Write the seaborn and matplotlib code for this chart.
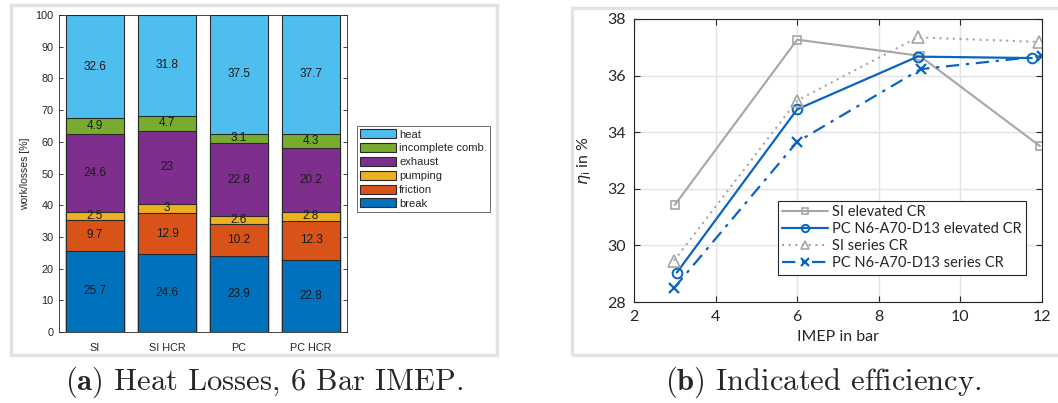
import numpy as np
import pandas as pd
import seaborn as sns
import matplotlib
matplotlib.use("Agg")
import matplotlib.pyplot as plt
from matplotlib.patches import Patch, Rectangle

# ---------------- data ----------------
configs = ["SI", "SI HCR", "PC", "PC HCR"]
loss_names = ["break", "friction", "pumping", "exhaust", "incomplete comb.", "heat"]
loss_break = [25.7, 24.6, 23.9, 22.8]
loss_friction = [9.7, 12.9, 10.2, 12.3]
loss_pumping = [2.5, 3.0, 2.6, 2.8]
loss_exhaust = [24.6, 23.0, 22.8, 20.2]
loss_incomplete = [4.9, 4.7, 3.1, 4.3]
loss_heat = [32.6, 31.8, 37.5, 37.7]
loss_labels = [
    ["25.7", "24.6", "23.9", "22.8"],
    ["9.7", "12.9", "10.2", "12.3"],
    ["2.5", "3", "2.6", "2.8"],
    ["24.6", "23", "22.8", "20.2"],
    ["4.9", "4.7", "3.1", "4.3"],
    ["32.6", "31.8", "37.5", "37.7"],
]
loss_colors = ["#0072BD", "#D95319", "#EDB120", "#7E2F8E", "#77AC30", "#4DBEEE"]

imep_si_el = [3.0, 6.0, 9.0, 11.95]
eta_si_el = [31.43, 37.27, 36.7, 33.51]
imep_pc_el = [3.05, 6.0, 8.95, 11.75]
eta_pc_el = [29.04, 34.81, 36.67, 36.62]
imep_si_se = [2.98, 6.0, 8.95, 11.93]
eta_si_se = [29.46, 35.12, 37.35, 37.19]
imep_pc_se = [2.98, 6.0, 9.03, 12.0]
eta_pc_se = [28.49, 33.66, 36.23, 36.69]
series_names = ["SI elevated CR", "PC N6-A70-D13 elevated CR",
                "SI series CR", "PC N6-A70-D13 series CR"]

# ---------------- style ----------------
sns.set_style("ticks")
plt.rcParams["font.family"] = ["Liberation Sans", "DejaVu Sans"]
plt.rcParams["mathtext.fontset"] = "cm"

W, H = 1058, 403
fig = plt.figure(figsize=(W / 100, H / 100), dpi=100)
fig.patch.set_facecolor("white")

def fx(px):
    return px / W

def fy(py):
    return 1 - py / H

# panel frames
for (x0, y0, x1, y1) in [(11, 5, 497, 355), (572, 8, 1062, 355)]:
    fig.patches.append(Rectangle((fx(x0), fy(y1)), fx(x1 - x0), (y1 - y0) / H,
                                 transform=fig.transFigure, fill=False,
                                 edgecolor="#e3e3e3", linewidth=2.5, zorder=0))

spine_c = "#262626"

# ---------------- left: stacked bars ----------------
ax1 = fig.add_axes([fx(59), fy(332), fx(347 - 59), (332 - 15) / H])
layers = [loss_break, loss_friction, loss_pumping, loss_exhaust, loss_incomplete, loss_heat]
cum = np.cumsum(np.array(layers), axis=0)
for i in range(len(layers) - 1, -1, -1):
    sns.barplot(x=configs, y=cum[i], color=loss_colors[i], saturation=1,
                edgecolor="#2a2a2a", linewidth=0.8, width=0.8, ax=ax1, zorder=2)
for i in range(len(layers)):
    bottoms = cum[i] - np.array(layers[i])
    for j in range(len(configs)):
        yc = bottoms[j] + layers[i][j] / 2
        ax1.text(j, yc, loss_labels[i][j], ha="center", va="center",
                 fontsize=8.5, color="#1a1a1a", zorder=5)
ax1.set_ylim(0, 100)
ax1.set_xlim(-0.5, 3.5)
ax1.set_yticks(np.arange(0, 101, 10))
ax1.set_ylabel("work/losses [%]", fontsize=7.5, labelpad=4)
ax1.set_xlabel("")
ax1.tick_params(axis="both", direction="in", length=3, width=0.6, labelsize=7.8,
                colors=spine_c, right=True, top=False, pad=4)
ax1.tick_params(axis="x", length=0, pad=8)
for s in ax1.spines.values():
    s.set_visible(True)
    s.set_color(spine_c)
    s.set_linewidth(0.6)

handles = [Patch(facecolor=loss_colors[i], edgecolor="#2a2a2a", linewidth=0.8,
                 label=loss_names[i]) for i in range(len(layers) - 1, -1, -1)]
leg1 = fig.legend(handles=handles, loc="upper left",
                  bbox_to_anchor=(fx(357), fy(126)), fontsize=8, frameon=True,
                  fancybox=False, edgecolor="#555555", framealpha=1,
                  handlelength=3.2, handleheight=0.85, labelspacing=0.32,
                  handletextpad=0.3, borderpad=0.3, borderaxespad=0)
leg1.get_frame().set_linewidth(0.6)

# ---------------- right: efficiency lines ----------------
ax2 = fig.add_axes([fx(634), fy(302), fx(1042 - 634), (302 - 19) / H])
gray = "#a6a6a6"
blue = "#0a64c0"
sns.lineplot(x=imep_si_el, y=eta_si_el, ax=ax2, color=gray, linewidth=1.5,
             marker="s", markersize=6, markerfacecolor="none",
             markeredgecolor=gray, markeredgewidth=1.2, label=series_names[0])
sns.lineplot(x=imep_pc_el, y=eta_pc_el, ax=ax2, color=blue, linewidth=1.6,
             marker="o", markersize=7, markerfacecolor="none",
             markeredgecolor=blue, markeredgewidth=1.4, label=series_names[1])
sns.lineplot(x=imep_si_se, y=eta_si_se, ax=ax2, color=gray, linewidth=1.5,
             linestyle=(0, (1, 2.2)),
             marker="^", markersize=8, markerfacecolor="none",
             markeredgecolor=gray, markeredgewidth=1.2, label=series_names[2])
sns.lineplot(x=imep_pc_se, y=eta_pc_se, ax=ax2, color=blue, linewidth=1.6,
             linestyle=(0, (6, 3, 1.5, 3)),
             marker="x", markersize=7, markeredgecolor=blue,
             markeredgewidth=1.6, label=series_names[3])
ax2.set_xlim(2, 12)
ax2.set_ylim(28, 38)
ax2.set_xticks(np.arange(2, 13, 2))
ax2.set_yticks(np.arange(28, 39, 2))
ax2.grid(True, color="#e4e4e4", linewidth=1.0)
ax2.set_axisbelow(True)
for lab in ax2.get_xticklabels() + ax2.get_yticklabels():
    lab.set_fontfamily(["Lato", "DejaVu Sans"])
ax2.tick_params(axis="both", direction="in", length=4, width=0.8, labelsize=11.5,
                colors=spine_c, right=True, top=True, pad=6)
for s in ax2.spines.values():
    s.set_visible(True)
    s.set_color(spine_c)
    s.set_linewidth(0.8)
ax2.set_xlabel("IMEP in bar", fontsize=11.5, family=["Lato", "DejaVu Sans"],
               color=spine_c, labelpad=4)
yl = ax2.set_ylabel(r"$\eta_\mathrm{i}$ in %", fontsize=11.5,
                    family=["Lato", "DejaVu Sans"], color=spine_c, labelpad=10)
yl.set_math_fontfamily("dejavusans")
leg2 = ax2.legend(loc="upper left", bbox_to_anchor=(fx(778), fy(201)),
                  bbox_transform=fig.transFigure, frameon=True,
                  fancybox=False, edgecolor=spine_c, framealpha=1,
                  handlelength=3.1, labelspacing=0.2, handletextpad=0.3,
                  borderpad=0.3, borderaxespad=0, markerscale=0.75,
                  prop={"family": ["Lato", "DejaVu Sans"], "size": 10.5})
leg2.get_frame().set_linewidth(0.8)

# ---------------- captions ----------------
fig.text(fx(264), fy(382), r"$\mathbf{(a)}$ Heat Losses, 6 Bar IMEP.",
         ha="center", va="center", fontsize=22, family="cmr10")
fig.text(fx(823), fy(382), r"$\mathbf{(b)}$ Indicated efficiency.",
         ha="center", va="center", fontsize=22, family="cmr10")

fig.savefig("out.png", dpi=100, facecolor="white")
